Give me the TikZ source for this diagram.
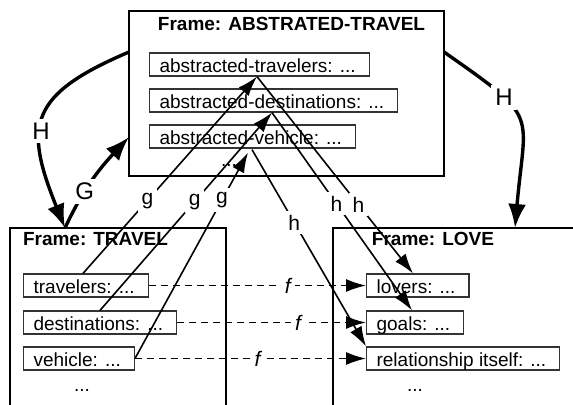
\documentclass[tikz,border=0pt]{standalone}
\usepackage{fontspec}
\setmainfont{Liberation Sans}
\usetikzlibrary{arrows.meta,calc}
\begin{document}
\begin{tikzpicture}[x=0.5pt,y=-0.5pt,
  frame/.style={draw=black,line width=1pt,inner sep=0pt,outer sep=0pt},
  ftitle/.style={font=\fontsize{9.5pt}{11pt}\selectfont\bfseries,inner sep=0pt,anchor=base},
  slot/.style={draw=black!80,line width=0.6pt,anchor=west,inner ysep=0pt,inner xsep=5pt,
    text height=9.5pt,text depth=2pt,font=\fontsize{9.5pt}{11pt}\selectfont,
    execute at end node={\hspace{1.75pt}}},
  dots/.style={font=\fontsize{9.5pt}{11pt}\selectfont,inner sep=0pt,anchor=base},
  lbl/.style={fill=white,inner sep=2pt,font=\fontsize{10.5pt}{12pt}\selectfont},
  biglbl/.style={fill=white,inner sep=2pt,font=\fontsize{12pt}{14pt}\selectfont},
  thinarrow/.style={line width=0.8pt,-{Latex[length=10pt,width=6.5pt]}},
  farrow/.style={line width=0.8pt,dash pattern=on 3.5pt off 2.5pt,-{Latex[length=10pt,width=6.5pt]}},
  thickarrow/.style={line width=1.7pt,-{Latex[length=12pt,width=9pt]}}]
\clip (0,0) rectangle (573,404);
\fill[white] (0,0) rectangle (573,404);
% frames
\node[frame,minimum width=157.5pt,minimum height=82.5pt] (abs) at (286.5,93.5) {};
\node[frame,minimum width=108pt,minimum height=101pt] (trav) at (118,329) {};
\node[frame,minimum width=133.5pt,minimum height=101pt] (love) at (466.5,329) {};
% titles
\node[ftitle] (abst) at (291.5,30.5) {Frame: ABSTRATED-TRAVEL};
\node[ftitle] (travt) at (95.5,245) {Frame: TRAVEL};
\node[ftitle] (lovet) at (433,245) {Frame: LOVE};
% slots
\node[slot] (a1) at (149,64.5) {abstracted-travelers: ...};
\node[slot] (a2) at (149,100.5) {abstracted-destinations: ...};
\node[slot] (a3) at (149,136.5) {abstracted-vehicle: ...};
\node[dots] (ad) at (229,166) {...};
\node[slot] (t1) at (23,285.5) {travelers: ...};
\node[slot] (t2) at (23,322.5) {destinations: ...};
\node[slot] (t3) at (23,358.5) {vehicle: ...};
\node[dots] (td) at (82,391) {...};
\node[slot] (l1) at (366,285.5) {lovers: ...};
\node[slot] (l2) at (366,322.5) {goals: ...};
\node[slot] (l3) at (366,358.5) {relationship itself: ...};
\node[dots] (ld) at (415,391) {...};
% H and G
\draw[thickarrow] ($(abs.north west)+(0,41)$) to[out=203,in=112,looseness=1.5]
  node[biglbl,pos=0.58] (hl) {H} ($(trav.north west)+(55,0)$);
\draw[thickarrow] ($(trav.north west)+(55,0)$) to[out=65,in=227]
  node[biglbl,pos=0.36] (gl) {G} ($(abs.north west)+(0,126)$);
\draw[thickarrow] ($(abs.north east)+(0,41)$) to[out=-35,in=85,looseness=1.6]
  node[biglbl,pos=0.3] (hr) {H} ($(love.north west)+(182,0)$);
% g arrows
\draw[thinarrow] ($(t1.north west)+(60,0)$) -- node[lbl,pos=0.37] (g1) {g} ($(a1.south west)+(108,0)$);
\draw[thinarrow] ($(t2.north west)+(77,0)$) -- node[lbl,pos=0.55] (g2) {g} ($(a2.south west)+(123,0)$);
\draw[thinarrow] (t3.east) -- node[lbl,pos=0.77] (g3) {g} ($(a3.south west)+(99,4)$);
% h arrows
\draw[thinarrow] ($(a1.south west)+(108,0)$) -- node[lbl,pos=0.65] (h1) {h} ($(l1.north west)+(47,0)$);
\draw[thinarrow] ($(a2.south west)+(123,0)$) -- node[lbl,pos=0.46] (h2) {h} ($(l2.north west)+(46,0)$);
\draw[thinarrow] ($(a3.south west)+(103,1)$) -- node[lbl,pos=0.37] (h3) {h} (l3.north west);
% f arrows
\draw[farrow] (t1.east) -- node[lbl,pos=0.64] (f1) {\itshape f} (l1.west);
\draw[farrow] (t2.east) -- node[lbl,pos=0.64] (f2) {\itshape f} (l2.west);
\draw[farrow] (t3.east) -- node[lbl,pos=0.53] (f3) {\itshape f} (l3.west);
\end{tikzpicture}
\end{document}
